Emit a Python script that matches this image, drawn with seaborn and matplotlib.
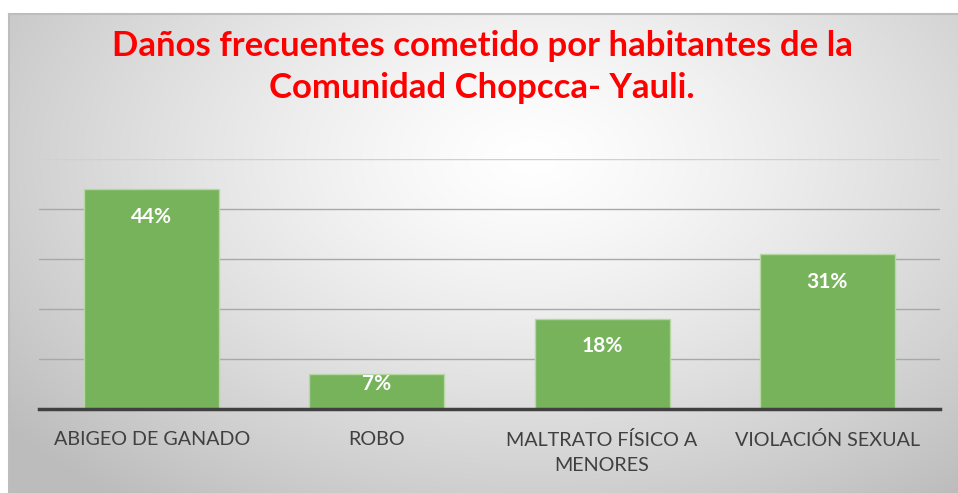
import numpy as np
import pandas as pd
import matplotlib
matplotlib.use("Agg")
import matplotlib.pyplot as plt
import seaborn as sns

# datos del grafico
categorias = ["ABIGEO DE GANADO", "ROBO", "MALTRATO FÍSICO A\nMENORES", "VIOLACIÓN SEXUAL"]
porcentajes = [44, 7, 18, 31]
etiquetas = ["44%", "7%", "18%", "31%"]
titulo = "Daños frecuentes cometido por habitantes de la\nComunidad Chopcca- Yauli."

sns.set_style("white")
plt.rcParams['font.family'] = ['Lato', 'DejaVu Sans']

W, H = 958, 493
fig = plt.figure(figsize=(W / 100, H / 100), dpi=100)
fig.patch.set_facecolor("white")

# fondo con degradado radial (solo decorativo)
bg = fig.add_axes([9 / W, 0, 1 - 9 / W, 1 - 14 / H], zorder=0)
yy, xx = np.mgrid[0:1:300j, 0:1:600j]
r = np.sqrt(((xx - 0.55) / 0.75) ** 2 + ((yy - 0.30) / 0.95) ** 2)
g = np.clip(1.0 - 0.28 * r ** 1.3, 0.74, 1.0)
bg.imshow(np.dstack([g, g, g]), aspect="auto", extent=[0, 1, 1, 0])
bg.set_xticks([])
bg.set_yticks([])
for s in ["right", "bottom"]:
    bg.spines[s].set_visible(False)
for s in ["left", "top"]:
    bg.spines[s].set_color("#bdbdbd")
    bg.spines[s].set_linewidth(1.5)

ax = fig.add_axes([39 / W, (H - 409) / H, 901 / W, 250 / H], zorder=1)
ax.patch.set_alpha(0)

df = pd.DataFrame({"categoria": categorias, "valor": porcentajes})
sns.barplot(data=df, x="categoria", y="valor", color="#77b35b", width=0.6,
            edgecolor="#b5d8a3", linewidth=1.0, saturation=1, ax=ax, zorder=2)

ax.set_ylim(0, 50)
ax.set_xlim(-0.5, 3.5)
ax.set_yticks([10, 20, 30, 40, 50])
ax.set_yticklabels([])
ax.tick_params(axis="y", length=0)
ax.tick_params(axis="x", length=0, pad=16, labelsize=14.2, labelcolor="#404040")
for lbl in ax.get_xticklabels():
    lbl.set_linespacing(1.58)
ax.yaxis.grid(True, color="#a8a8a8", linewidth=1.0, zorder=0)
ax.get_ygridlines()[-1].set_color("#d0d0d0")
ax.set_axisbelow(True)
ax.set_xlabel("")
ax.set_ylabel("")
for s in ["left", "right", "top"]:
    ax.spines[s].set_visible(False)
ax.spines["bottom"].set_color("#404040")
ax.spines["bottom"].set_linewidth(2.5)

for i, (v, t) in enumerate(zip(porcentajes, etiquetas)):
    y = max(v - 5.6, v * 0.7)
    ax.text(i, y, t, ha="center", va="center", color="white",
            fontsize=15, fontweight="bold", zorder=3)

fig.text(482 / W, 1 - 67 / H, titulo, ha="center", va="center", color="#ff0000",
         fontsize=25, fontweight="bold", linespacing=1.4)

fig.savefig("out.png", dpi=100)
